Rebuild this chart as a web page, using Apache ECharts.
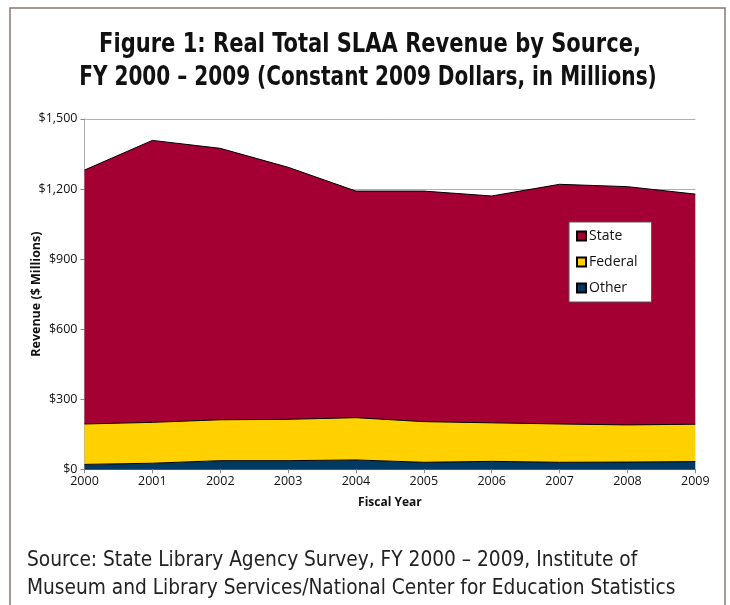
<!DOCTYPE html>
<html>
<head>
<meta charset="utf-8">
<script src="https://cdn.jsdelivr.net/npm/echarts@6/dist/echarts.min.js"></script>
<style>
html,body{margin:0;padding:0;background:#fff;}
#chart{width:730px;height:605px;}
</style>
</head>
<body>
<div id="chart"></div>
<script>
const years = ['2000','2001','2002','2003','2004','2005','2006','2007','2008','2009'];
const otherValues = [21, 26, 37, 37, 40, 30, 34, 30, 31, 33];
const federalValues = [173, 175, 175, 177, 181, 174, 165, 164, 159, 160];
const stateValues = [1087, 1207, 1162, 1079, 970, 987, 971, 1026, 1020, 985];
const yTicks = [0, 300, 600, 900, 1200, 1500];

const chart = echarts.init(document.getElementById('chart'));
const titleFont = '"Liberation Sans Narrow", "DejaVu Sans Condensed", "Liberation Sans", sans-serif';
const axisFont = '"Open Sans", "Noto Sans", sans-serif';

function areaSeries(name, data, color) {
  return {
    name: name,
    type: 'line',
    stack: 'total',
    data: data,
    showSymbol: false,
    symbol: 'none',
    lineStyle: { color: '#000', width: 1 },
    itemStyle: { color: color, borderColor: '#000', borderWidth: 1 },
    areaStyle: { color: color, opacity: 1 },
    emphasis: { disabled: true },
    z: 2
  };
}

chart.setOption({
  animation: false,
  backgroundColor: '#fff',
  graphic: [
    { type: 'rect', shape: { x: 10, y: 8, width: 715, height: 620 }, style: { fill: 'none', stroke: '#8a786c', lineWidth: 1.5 }, z: -1 },
    { type: 'text', x: 370, y: 45, scaleX: 0.866, style: { text: 'Figure 1: Real Total SLAA Revenue by Source,', font: 'bold 27px ' + titleFont, fill: '#111', align: 'center', verticalAlign: 'middle' } },
    { type: 'text', x: 368, y: 78, scaleX: 0.826, style: { text: 'FY 2000 – 2009 (Constant 2009 Dollars, in Millions)', font: 'bold 27px ' + titleFont, fill: '#111', align: 'center', verticalAlign: 'middle' } },
    { type: 'text', x: 27, y: 560, scaleX: 0.94, style: { text: 'Source: State Library Agency Survey, FY 2000 – 2009, Institute of', font: '22px ' + titleFont, fill: '#222', verticalAlign: 'middle' } },
    { type: 'text', x: 27, y: 588, scaleX: 0.94, style: { text: 'Museum and Library Services/National Center for Education Statistics', font: '22px ' + titleFont, fill: '#222', verticalAlign: 'middle' } }
  ],
  legend: {
    data: ['State', 'Federal', 'Other'],
    orient: 'vertical',
    left: 569,
    top: 222,
    width: 83,
    padding: [7, 14, 7, 7],
    itemGap: 12,
    itemWidth: 9,
    itemHeight: 9,
    icon: 'rect',
    backgroundColor: '#fff',
    borderColor: '#555',
    borderWidth: 1,
    textStyle: { fontFamily: axisFont, fontSize: 14, color: '#111', padding: [0, 0, 0, -2] }
  },
  grid: { left: 84.5, right: 34.7, top: 118.9, bottom: 135.7, containLabel: false },
  xAxis: {
    type: 'category',
    data: years,
    boundaryGap: false,
    name: 'Fiscal Year',
    nameLocation: 'middle',
    nameGap: 27,
    nameTextStyle: { fontFamily: axisFont, fontWeight: 'bold', fontSize: 12, color: '#111' },
    axisLine: { lineStyle: { color: '#555', width: 1 } },
    axisTick: { show: true, length: 4, lineStyle: { color: '#888' }, alignWithLabel: true },
    axisLabel: { fontFamily: axisFont, fontSize: 12.5, color: '#111', margin: 6 },
    splitLine: { show: false },
    z: 3
  },
  yAxis: {
    type: 'value',
    min: yTicks[0],
    max: yTicks[yTicks.length - 1],
    interval: 300,
    name: 'Revenue ($ Millions)',
    nameLocation: 'middle',
    nameRotate: 90,
    nameGap: 42,
    nameMoveOverlap: false,
    nameTextStyle: { fontFamily: axisFont, fontWeight: 'bold', fontSize: 12.5, color: '#111' },
    axisLine: { show: true, lineStyle: { color: '#aaa', width: 1 } },
    axisTick: { show: true, length: 4, lineStyle: { color: '#888' } },
    axisLabel: {
      fontFamily: axisFont, fontSize: 12.5, color: '#111', margin: 7,
      formatter: v => '$' + v.toLocaleString('en-US')
    },
    splitLine: { show: true, lineStyle: { color: '#b0b0b0', width: 1 } }
  },
  series: [
    areaSeries('Other', otherValues, '#003a63'),
    areaSeries('Federal', federalValues, '#ffd100'),
    areaSeries('State', stateValues, '#a50034')
  ]
});
</script>
</body>
</html>
